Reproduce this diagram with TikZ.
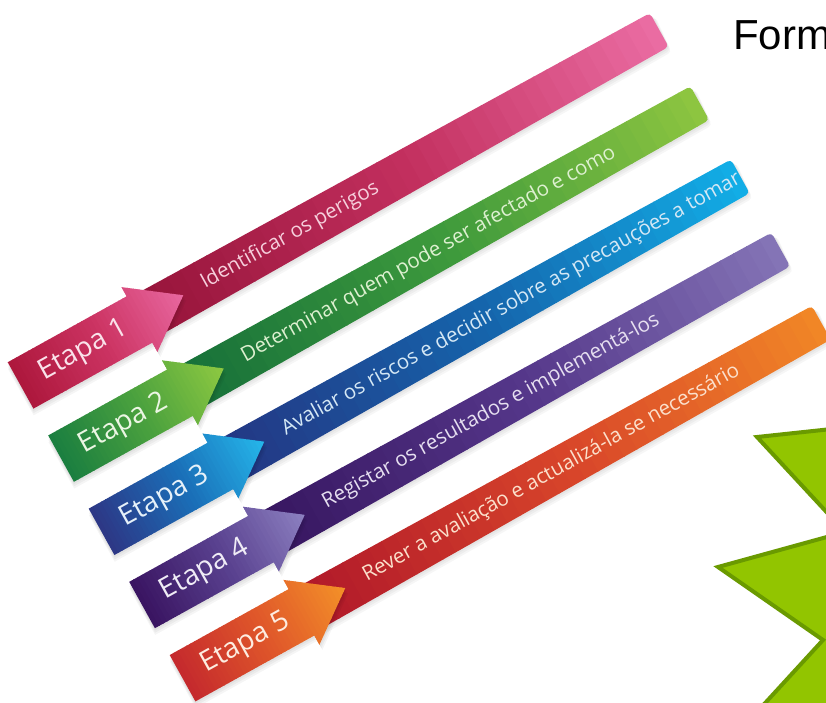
\documentclass[tikz,border=0pt]{standalone}
\usepackage{fontspec}
\setmainfont{Open Sans}
\newfontfamily\arialf{Liberation Sans}
% ribbon colours: band L/M/R, shaft L/M/R, text
\definecolor{b1L}{HTML}{96143A}\definecolor{b1M}{HTML}{C22F5E}\definecolor{b1R}{HTML}{EA6CA2}
\definecolor{s1L}{HTML}{AE183D}\definecolor{s1M}{HTML}{CC3463}\definecolor{s1R}{HTML}{E8679F}
\definecolor{t1}{HTML}{F6CFDC}
\definecolor{b2L}{HTML}{16703A}\definecolor{b2M}{HTML}{3E9A3C}\definecolor{b2R}{HTML}{8DC540}
\definecolor{s2L}{HTML}{1B7F40}\definecolor{s2M}{HTML}{4CA23E}\definecolor{s2R}{HTML}{8DC841}
\definecolor{t2}{HTML}{DDF0D0}
\definecolor{b3L}{HTML}{243683}\definecolor{b3M}{HTML}{1565AC}\definecolor{b3R}{HTML}{12ADE6}
\definecolor{s3L}{HTML}{2D3886}\definecolor{s3M}{HTML}{1A6FB8}\definecolor{s3R}{HTML}{25B6EA}
\definecolor{t3}{HTML}{D5E8F5}
\definecolor{b4L}{HTML}{371660}\definecolor{b4M}{HTML}{55378A}\definecolor{b4R}{HTML}{8474B6}
\definecolor{s4L}{HTML}{3A1562}\definecolor{s4M}{HTML}{5A4290}\definecolor{s4R}{HTML}{8C80C0}
\definecolor{t4}{HTML}{E6DFF0}
\definecolor{b5L}{HTML}{B0182A}\definecolor{b5M}{HTML}{D8452A}\definecolor{b5R}{HTML}{F18626}
\definecolor{s5L}{HTML}{C52A2D}\definecolor{s5M}{HTML}{E0582A}\definecolor{s5R}{HTML}{F39028}
\definecolor{t5}{HTML}{FBE0CC}
\definecolor{starF}{HTML}{92C500}
\definecolor{starB}{HTML}{6A9A00}
% gradient made of strips along the local u axis
\newcommand\rbgrad[5]{%
  \pgfmathsetmacro\ustep{(#2-(#1))/40}%
  \foreach \k in {0,...,39}{%
    \pgfmathsetmacro\ua{#1+\ustep*\k}%
    \pgfmathsetmacro\ub{#1+\ustep*(\k+1)+0.8}%
    \pgfmathtruncatemacro\pp{\k<20 ? 5*\k : 100*(\k-20)/19}%
    \ifnum\k<20 \colorlet{gc}{#4!\pp!#3}\else\colorlet{gc}{#5!\pp!#4}\fi
    \fill[gc] (\ua,-45) rectangle (\ub,45);
  }}
\newcommand\myribbon[3]{%
\begin{scope}[shift={(99+40.5*#1,456.7-73.2*#1)},rotate=29]
  % band shadow
  \foreach \s in {2,4,6}{\fill[black,opacity=.035,rounded corners=4]
     (0,-24-\s) -- (595,-18-\s) -- (595+0.5*\s,20.5-\s) -- (0,24-\s) -- cycle;}
  \begin{scope}
    \clip[rounded corners=4] (0,-24) -- (595,-18) -- (595,20.5) -- (0,24) -- cycle;
    \rbgrad{0}{596}{b#1L}{b#1M}{b#1R}
  \end{scope}
  \node[bandtext, text=t#1] (passo#1) at (72,-5) {#3};
  % shaft + head shadow
  \foreach \s in {2,4,6}{\fill[black,opacity=.04]
     (-136-0.5*\s,-26.5-\s) -- (0,-26.5-\s) -- (0,-37-\s) -- (50,-\s) -- (0,37-\s)
     -- (0,26.5-\s) -- (-136-0.5*\s,26.5-\s) -- cycle;}
  \begin{scope}
    \clip (-136,-26.5) -- (0,-26.5) -- (0,-37) -- (50,0) -- (0,37) -- (0,26.5)
      -- (-136,26.5) -- cycle;
    \rbgrad{-136}{51}{s#1L}{s#1M}{s#1R}
  \end{scope}
  \node[etapatext, text=t#1!60!white] (etapa#1) at (-64,-7) {#2};
\end{scope}}
\begin{document}
\begin{tikzpicture}[x=1pt,y=1pt,
  bandtext/.style={anchor=base west, transform shape, inner sep=0pt,
     font=\fontsize{20.5}{22}\selectfont},
  etapatext/.style={anchor=base, transform shape, inner sep=0pt,
     font=\fontsize{28}{30}\selectfont}]
\useasboundingbox (0,0) rectangle (826,703);
\clip (0,0) rectangle (826,703);
\fill[white] (0,0) rectangle (826,703);
\myribbon{1}{Etapa 1}{Identificar os perigos}
\myribbon{2}{Etapa 2}{Determinar quem pode ser afectado e como}
\myribbon{3}{Etapa 3}{Avaliar os riscos e decidir sobre as precauções a tomar}
\myribbon{4}{Etapa 4}{Registar os resultados e implementá-los}
\myribbon{5}{Etapa 5}{Rever a avaliação e actualizá-la se necessário}
\node[anchor=base west, inner sep=0pt, font=\arialf\fontsize{42}{44}\selectfont]
  (title) at (733,653) {Form};
\draw[line width=4, draw=starB, fill=starF, line join=miter]
  (860,277) -- (757,266) -- (845,171) -- (718,136) -- (823,63) -- (745,-22)
  -- (900,-22) -- (900,277) -- cycle;
\end{tikzpicture}
\end{document}
